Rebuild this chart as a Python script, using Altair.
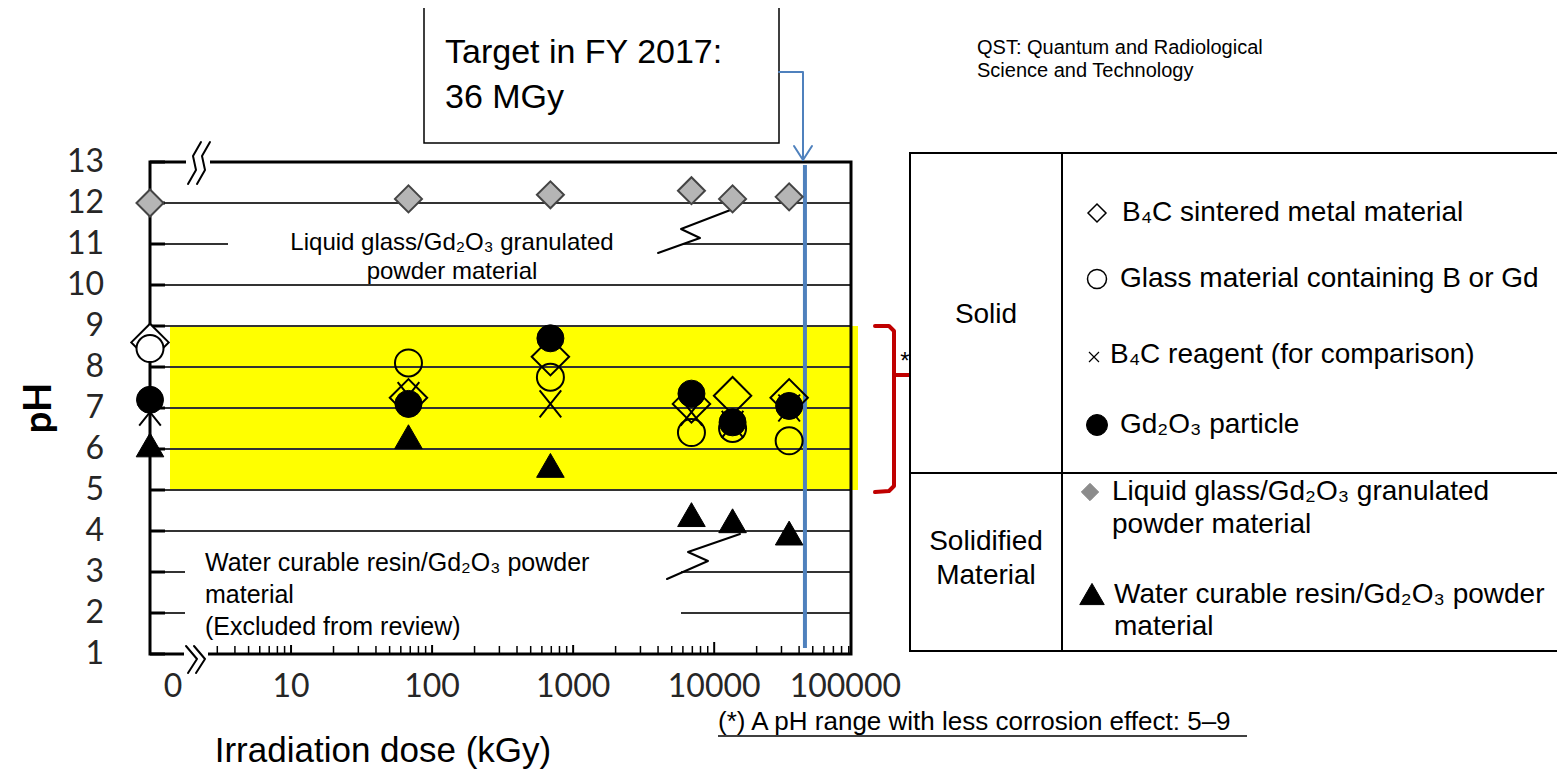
import math
import altair as alt
import pandas as pd

# ---------------- values ----------------
doses_kGy = [0, 68, 690, 6900, 13500, 34000]

ph_b4c_sintered = [8.6, 7.25, 8.25, 7.1, 7.3, 7.25]      # open diamond
ph_glass = [8.45, 8.1, 7.75, 6.4, 6.5, 6.2]               # open circle
ph_b4c_reagent = [6.9, 7.3, 7.1, 6.9, 6.6, 7.0]           # x
ph_gd2o3 = [7.2, 7.1, 8.7, 7.35, 6.65, 7.05]              # filled circle
ph_liquid_glass = [12.0, 12.1, 12.2, 12.3, 12.1, 12.15]   # grey diamond
ph_water_resin = [6.1, 6.3, 5.6, 4.4, 4.25, 3.95]         # filled triangle

ph_ticks = list(range(1, 14))
grid_ph = list(range(2, 13))
dose_tick_labels = ["0", "10", "100", "1000", "10000", "100000"]
target_line_dose = 44000
safe_ph_range = [5, 9]

# ---------------- layout (page pixels) ----------------
LEFT, TOP, RIGHT, BOTTOM = 150, 162, 851, 654
PLOT_W, PLOT_H = RIGHT - LEFT, BOTTOM - TOP
X_MAX = 4.97
ZERO_LABEL_LX = 0.163

XS = alt.Scale(domain=[0, X_MAX], nice=False, zero=False)
YS = alt.Scale(domain=[1, 13], nice=False, zero=False)
XE = alt.X("lx:Q", scale=XS, axis=None)
YE = alt.Y("pH:Q", scale=YS, axis=None)
LX_EXPR = "datum.dose > 0 ? log(datum.dose) / LN10 : 0"

ONE = pd.DataFrame({"k": [0]})
ARIAL = "Liberation Sans"
CAL = "Lato"


def vx(px):
    return alt.value(px - LEFT)


def vy(py):
    return alt.value(py - TOP)


def L(px):
    return (px - LEFT) * X_MAX / PLOT_W


def P(py):
    return 13 - (py - TOP) * 12 / PLOT_H


def txt(s, px, py, size, font=ARIAL, align="left", weight="normal", angle=0, color="black"):
    return alt.Chart(ONE).mark_text(
        text=s, fontSize=size, font=font, align=align, baseline="middle",
        fontWeight=weight, angle=angle, color=color
    ).encode(x=vx(px), y=vy(py))


def box(x1, y1, x2, y2, fill="white", stroke="white", sw=0, fop=1):
    return alt.Chart(ONE).mark_rect(
        fill=fill, fillOpacity=fop, stroke=stroke, strokeWidth=sw
    ).encode(x=vx(x1), x2=vx(x2), y=vy(y1), y2=vy(y2))


def hrule(x1, x2, py, color="black", w=2):
    return alt.Chart(ONE).mark_rule(color=color, strokeWidth=w).encode(
        x=vx(x1), x2=vx(x2), y=vy(py))


def vrule(px, y1, y2, color="black", w=2):
    return alt.Chart(ONE).mark_rule(color=color, strokeWidth=w).encode(
        x=vx(px), y=vy(y1), y2=vy(y2))


def polyline(pts, color="black", width=2):
    df = pd.DataFrame({"lx": [L(p[0]) for p in pts],
                       "pH": [P(p[1]) for p in pts],
                       "o": list(range(len(pts)))})
    return alt.Chart(df).mark_line(
        color=color, strokeWidth=width, strokeCap="round", strokeJoin="round"
    ).encode(x=XE, y=YE, order="o:Q")


def sym(px, py, shape, size, fill, stroke, sw):
    return alt.Chart(ONE).mark_point(
        shape=shape, size=size, filled=True, fill=fill, stroke=stroke,
        strokeWidth=sw, opacity=1
    ).encode(x=vx(px), y=vy(py))


# ---------------- data table ----------------
series = {
    "liquid": ph_liquid_glass,
    "sintered": ph_b4c_sintered,
    "reagent": ph_b4c_reagent,
    "glass": ph_glass,
    "gd2o3": ph_gd2o3,
    "resin": ph_water_resin,
}
rows = []
for name, vals in series.items():
    for d, v in zip(doses_kGy, vals):
        if v is not None:
            rows.append({"series": name, "dose": d, "pH": v})
points = pd.DataFrame(rows)


def series_layer(name):
    return alt.Chart(points).transform_filter(
        alt.datum.series == name
    ).transform_calculate(lx=LX_EXPR)


open_fill = alt.when(alt.datum.dose == 0).then(alt.value("white")).otherwise(alt.value("transparent"))

layers = []

# yellow band
band = pd.DataFrame({"lo": [safe_ph_range[0]], "hi": [safe_ph_range[1]]})
layers.append(alt.Chart(band).mark_rect(color="#ffff00").encode(
    x=vx(170), x2=vx(858), y=alt.Y("lo:Q", scale=YS, axis=None), y2="hi:Q"))

# grid lines
layers.append(alt.Chart(pd.DataFrame({"pH": grid_ph})).mark_rule(
    color="#333333", strokeWidth=2).encode(y=YE, x=alt.value(0), x2=alt.value(PLOT_W)))
# left ticks
layers.append(alt.Chart(pd.DataFrame({"pH": ph_ticks})).mark_rule(
    color="black", strokeWidth=3).encode(y=YE, x=alt.value(0), x2=alt.value(15)))

# bottom log ticks
minor = [math.log10(k * 10 ** n) for n in range(0, 5) for k in range(2, 10)]
minor = [v for v in minor if 0.4 < v < X_MAX]
major = [1, 2, 3, 4]
layers.append(alt.Chart(pd.DataFrame({"lx": minor})).mark_rule(
    color="black", strokeWidth=1.5).encode(x=XE, y=alt.value(PLOT_H), y2=alt.value(PLOT_H - 8)))
layers.append(alt.Chart(pd.DataFrame({"lx": major})).mark_rule(
    color="black", strokeWidth=2).encode(x=XE, y=alt.value(PLOT_H), y2=alt.value(PLOT_H - 12)))

# white label boxes inside the plot
layers.append(box(228, 226, 683, 282))
layers.append(box(185, 538, 681, 645))

# frame
layers.append(box(LEFT, TOP, RIGHT, BOTTOM, fill="white", stroke="black", sw=3, fop=0))

# axis break marks
layers.append(box(186, 158, 210, 166))
layers.append(box(184, 650, 208, 658))
layers.append(polyline([(188, 184), (196, 170), (193, 156), (201, 142)], width=2))
layers.append(polyline([(197, 184), (205, 170), (202, 156), (210, 142)], width=2))
layers.append(polyline([(186, 646), (197, 659), (188, 673)], width=2))
layers.append(polyline([(194, 646), (205, 659), (196, 673)], width=2))

# zigzag leaders
layers.append(polyline([(658, 253), (700, 238), (681, 229), (733, 209)], width=2))
layers.append(polyline([(667, 579), (708, 561), (688, 552), (740, 534)], width=2))

# target line (blue)
tdf = pd.DataFrame({"dose": [target_line_dose]})
layers.append(alt.Chart(tdf).transform_calculate(lx=LX_EXPR).mark_rule(
    color="#4f81bd", strokeWidth=4).encode(x=XE, y=vy(165), y2=vy(648)))

# markers
layers.append(series_layer("liquid").mark_point(
    shape="diamond", size=729, filled=True, fill="#b5b5b5", stroke="#444444",
    strokeWidth=2, opacity=1).encode(x=XE, y=YE))
layers.append(series_layer("sintered").mark_point(
    shape="diamond", size=1400, filled=True, stroke="black", strokeWidth=2,
    opacity=1).encode(x=XE, y=YE, fill=open_fill))
layers.append(series_layer("reagent").mark_point(
    shape="M-0.8,-1L0.8,1M-0.8,1L0.8,-1", size=729, filled=False, stroke="black",
    strokeWidth=2, opacity=1).encode(x=XE, y=YE))
layers.append(series_layer("glass").mark_point(
    shape="circle", size=729, filled=True, stroke="black", strokeWidth=2,
    opacity=1).encode(x=XE, y=YE, fill=open_fill))
layers.append(series_layer("gd2o3").mark_point(
    shape="circle", size=729, filled=True, fill="black", stroke="black",
    strokeWidth=1, opacity=1).encode(x=XE, y=YE))
layers.append(series_layer("resin").mark_point(
    shape="triangle-up", size=760, filled=True, fill="black", stroke="black",
    strokeWidth=1, opacity=1).encode(x=XE, y=YE))

# y tick labels
layers.append(alt.Chart(pd.DataFrame({"pH": ph_ticks})).mark_text(
    font=CAL, fontSize=32, align="right", baseline="middle", color="#262626"
).encode(y=YE, x=alt.value(104 - LEFT), text="pH:Q"))

# x tick labels
xl_pos = [ZERO_LABEL_LX if t == "0" else min(math.log10(int(t)), X_MAX - 0.04)
          for t in dose_tick_labels]
xl = pd.DataFrame({"label": dose_tick_labels, "lx": xl_pos})
layers.append(alt.Chart(xl).mark_text(
    font=CAL, fontSize=32, align="center", baseline="middle", color="#262626"
).encode(x=XE, y=vy(687), text="label:N"))

# axis titles
layers.append(txt("pH", 40, 408, 38, font=CAL, align="center", weight="bold", angle=270))
layers.append(txt("Irradiation dose (kGy)", 383, 751, 35, align="center"))

# annotations in plot
layers.append(txt("Liquid glass/Gd\u2082O\u2083 granulated", 452, 243, 24, align="center"))
layers.append(txt("powder material", 452, 272, 24, align="center"))
layers.append(txt("Water curable resin/Gd\u2082O\u2083 powder", 205, 563, 25))
layers.append(txt("material", 205, 595, 25))
layers.append(txt("(Excluded from review)", 205, 627, 25))

# target box + connector
layers.append(box(424, 7, 779, 143, fill="white", stroke="black", sw=1.5))
layers.append(txt("Target in FY 2017:", 445, 53, 34))
layers.append(txt("36 MGy", 445, 98, 34))
layers.append(polyline([(779, 72), (803, 72), (803, 160)], color="#4f81bd", width=2))
layers.append(polyline([(794, 146), (803, 160), (812, 146)], color="#4f81bd", width=2))

# red bracket
layers.append(polyline([(875, 326), (889, 326), (894, 331), (894, 486), (889, 491), (875, 492)],
                       color="#c00000", width=4))
layers.append(polyline([(894, 375), (910, 375)], color="#c00000", width=4))
layers.append(txt("*", 905, 362, 24, align="center"))

# legend table
layers.append(box(910, 153, 1560, 651, fill="white", stroke="black", sw=2))
layers.append(vrule(1062, 153, 651))
layers.append(hrule(910, 1560, 473))
layers.append(txt("Solid", 986, 315, 28, align="center"))
layers.append(txt("Solidified", 986, 542, 28, align="center"))
layers.append(txt("Material", 986, 576, 28, align="center"))

layers.append(sym(1097, 213, "diamond", 324, "white", "black", 1.5))
layers.append(txt("B\u2084C sintered metal material", 1122, 213, 28))
layers.append(sym(1097, 279, "circle", 361, "white", "black", 1.5))
layers.append(txt("Glass material containing B or Gd", 1120, 279, 28))
layers.append(alt.Chart(ONE).mark_point(
    shape="M-1,-1L1,1M-1,1L1,-1", size=100, filled=False, stroke="black",
    strokeWidth=1.2, opacity=1).encode(x=vx(1094), y=vy(357)))
layers.append(txt("B\u2084C reagent (for comparison)", 1110, 355, 28))
layers.append(sym(1097, 425, "circle", 440, "black", "black", 1))
layers.append(txt("Gd\u2082O\u2083 particle", 1120, 425, 28))
layers.append(sym(1090, 492, "diamond", 300, "#8c8c8c", "#8c8c8c", 1))
layers.append(txt("Liquid glass/Gd\u2082O\u2083 granulated", 1112, 492, 28))
layers.append(txt("powder material", 1112, 525, 28))
layers.append(sym(1092, 594, "triangle-up", 600, "black", "black", 1))
layers.append(txt("Water curable resin/Gd\u2082O\u2083 powder", 1114, 595, 28))
layers.append(txt("material", 1114, 627, 28))

# footnote and source note
layers.append(txt("(*) A pH range with less corrosion effect: 5\u20139", 718, 722, 26))
layers.append(hrule(718, 1247, 736, w=1.5))
layers.append(txt("QST: Quantum and Radiological", 977, 48, 20))
layers.append(txt("Science and Technology", 977, 71, 20))

chart = alt.layer(*layers).properties(
    width=PLOT_W, height=PLOT_H,
    padding={"left": LEFT - 8, "top": TOP - 8, "right": 1549 - (LEFT - 8) - PLOT_W,
             "bottom": 767 - (TOP - 8) - PLOT_H},
    autosize=alt.AutoSizeParams(type="none"),
).configure_view(strokeWidth=0)

chart.save("out.html", embed_options={"renderer": "svg", "actions": False})
